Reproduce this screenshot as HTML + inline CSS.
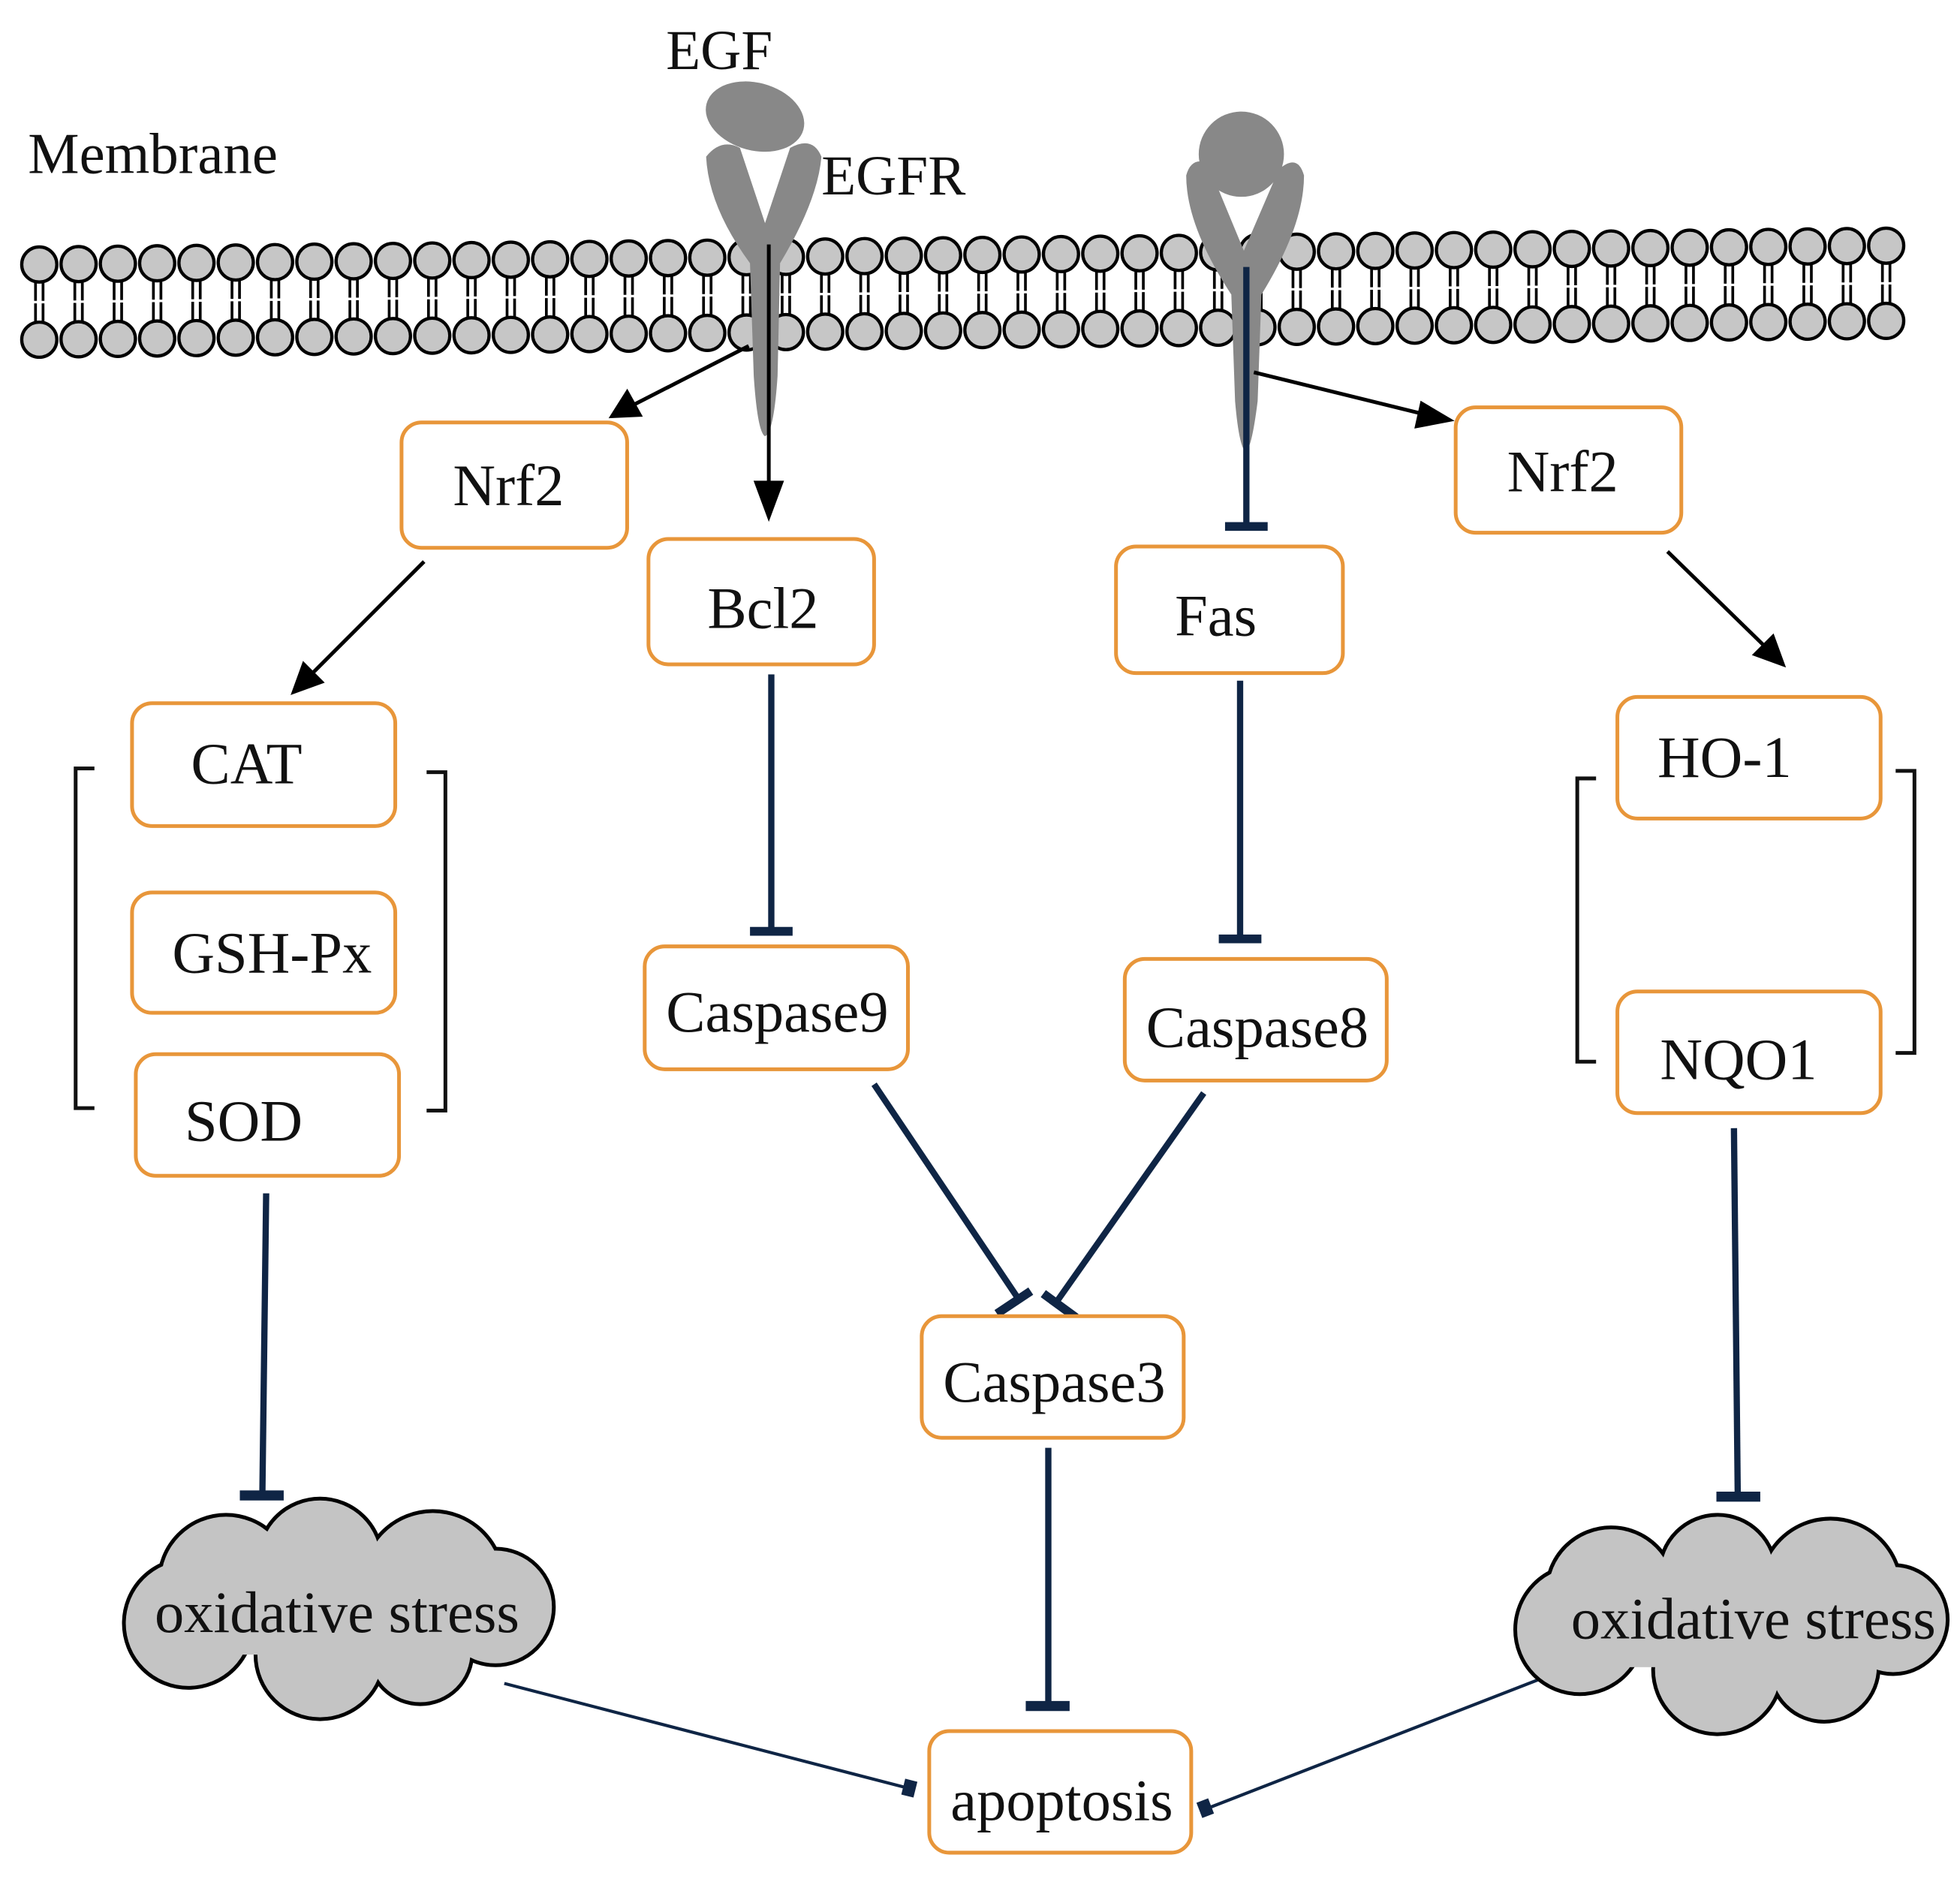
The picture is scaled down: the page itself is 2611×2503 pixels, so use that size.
<!DOCTYPE html>
<html><head><meta charset="utf-8"><style>
html,body{margin:0;padding:0;background:#fff;}
svg{display:block;}
text{font-family:"Liberation Serif",serif;fill:#111;}
</style></head><body>
<svg width="2611" height="2503" viewBox="0 0 1563 1499" xmlns="http://www.w3.org/2000/svg">
<rect width="1563" height="1499" fill="#fff"/>
<text x="22" y="138" font-size="46">Membrane</text>
<text x="531" y="55" font-size="45">EGF</text>
<text x="655" y="155" font-size="45">EGFR</text>

<g id="lip"></g>

<!-- receptors -->
<g fill="#888">
<ellipse cx="602" cy="93" rx="40" ry="27" transform="rotate(15 602 93)"/>
<path d="M563,125 Q575,110 590,118 L610,178 L630,118 Q648,108 655,125 Q652,160 622,210 L620,300 Q617,345 610,348 Q604,345 601,300 L598,210 Q565,165 563,125 Z"/>
<circle cx="990" cy="123" r="34"/>
<path d="M946,140 Q950,125 963,130 L992,200 L1020,135 Q1035,122 1040,140 Q1040,180 1006,235 L1003,320 Q998,360 993,360 Q988,355 985,320 L982,235 Q946,180 946,140 Z"/>
</g>

<!-- black arrows -->
<g stroke="#000" stroke-width="3" fill="#000">
<line x1="613" y1="195" x2="613" y2="395"/>
<polygon points="603,385 623,385 613,412"/>
<line x1="597" y1="276" x2="505" y2="323"/>
<polygon points="488,332 500,313 510,331"/>
<line x1="1000" y1="297" x2="1138" y2="331"/>
<polygon points="1156,335 1134,322 1130,340"/>
<line x1="338" y1="448" x2="248" y2="538"/>
<polygon points="234,552 242,530 256,544"/>
<line x1="1330" y1="440" x2="1408" y2="516"/>
<polygon points="1422,530 1400,522 1414,508"/>
</g>

<!-- navy inhibitors -->
<g stroke="#0f2545" stroke-width="5" fill="none">
<line x1="994" y1="213" x2="994" y2="418"/>
<line x1="977" y1="420" x2="1011" y2="420" stroke-width="7"/>
<line x1="615" y1="538" x2="615" y2="740"/>
<line x1="598" y1="743" x2="632" y2="743" stroke-width="7"/>
<line x1="989" y1="543" x2="989" y2="746"/>
<line x1="972" y1="749" x2="1006" y2="749" stroke-width="7"/>
<line x1="697" y1="865" x2="812" y2="1036"/>
<line x1="795" y1="1048" x2="822" y2="1030" stroke-width="7"/>
<line x1="960" y1="872" x2="843" y2="1038"/>
<line x1="832" y1="1032" x2="858" y2="1051" stroke-width="7"/>
<line x1="212" y1="952" x2="209" y2="1190"/>
<line x1="191" y1="1193" x2="226" y2="1193" stroke-width="8"/>
<line x1="1383" y1="900" x2="1386" y2="1191"/>
<line x1="1369" y1="1194" x2="1404" y2="1194" stroke-width="8"/>
<line x1="836" y1="1155" x2="836" y2="1358"/>
<line x1="818" y1="1361" x2="853" y2="1361" stroke-width="8"/>
<line x1="402" y1="1343" x2="726" y2="1427" stroke-width="2.5"/>
<line x1="1245" y1="1333" x2="962" y2="1443" stroke-width="2.5"/>
<rect x="720" y="1420" width="10" height="13" fill="#0f2545" stroke="none" transform="rotate(14 725 1427)"/>
<rect x="956" y="1436" width="10" height="13" fill="#0f2545" stroke="none" transform="rotate(-21 961 1442)"/>
</g>

<!-- brackets -->
<g stroke="#111" stroke-width="3" fill="none">
<polyline points="75,613 60,613 60,884 75,884"/>
<polyline points="340,616 355,616 355,886 340,886"/>
<polyline points="1273,621 1258,621 1258,847 1273,847"/>
<polyline points="1512,615 1527,615 1527,840 1512,840"/>
</g>

<!-- boxes -->
<g fill="#fff" stroke="#e8963a" stroke-width="3">
<rect x="320" y="337" width="180" height="100" rx="16"/>
<rect x="517" y="430" width="180" height="100" rx="16"/>
<rect x="890" y="436" width="181" height="101" rx="16"/>
<rect x="1161" y="325" width="180" height="100" rx="16"/>
<rect x="105" y="561" width="210" height="98" rx="16"/>
<rect x="105" y="712" width="210" height="96" rx="16"/>
<rect x="108" y="841" width="210" height="97" rx="16"/>
<rect x="514" y="755" width="210" height="98" rx="16"/>
<rect x="897" y="765" width="209" height="97" rx="16"/>
<rect x="1290" y="556" width="210" height="97" rx="16"/>
<rect x="1290" y="791" width="210" height="97" rx="16"/>
<rect x="735" y="1050" width="209" height="97" rx="16"/>
<rect x="741" y="1381" width="209" height="97" rx="16"/>
</g>
<g font-size="47">
<text x="361" y="403">Nrf2</text>
<text x="564" y="501">Bcl2</text>
<text x="937" y="507">Fas</text>
<text x="1202" y="392">Nrf2</text>
<text x="152" y="625">CAT</text>
<text x="137" y="776">GSH-Px</text>
<text x="147" y="910">SOD</text>
<text x="531" y="823">Caspase9</text>
<text x="914" y="835">Caspase8</text>
<text x="1322" y="620">HO-1</text>
<text x="1324" y="861">NQO1</text>
<text x="752" y="1118">Caspase3</text>
<text x="758" y="1452">apoptosis</text>
</g>

<!-- clouds -->
<g stroke="#000" stroke-width="6" fill="#c4c4c4">
<circle cx="180" cy="1262" r="52"/><circle cx="255" cy="1245" r="48"/><circle cx="345" cy="1262" r="55"/>
<circle cx="395" cy="1282" r="45"/><circle cx="335" cy="1318" r="40"/><circle cx="255" cy="1320" r="50"/><circle cx="150" cy="1295" r="50"/>
<circle cx="1285" cy="1270" r="50"/><circle cx="1370" cy="1255" r="45"/><circle cx="1460" cy="1268" r="55"/>
<circle cx="1510" cy="1292" r="42"/><circle cx="1455" cy="1330" r="42"/><circle cx="1370" cy="1332" r="50"/><circle cx="1260" cy="1300" r="50"/>
</g>
<g fill="#c4c4c4">
<circle cx="180" cy="1262" r="52"/><circle cx="255" cy="1245" r="48"/><circle cx="345" cy="1262" r="55"/>
<circle cx="395" cy="1282" r="45"/><circle cx="335" cy="1318" r="40"/><circle cx="255" cy="1320" r="50"/><circle cx="150" cy="1295" r="50"/>
<circle cx="1285" cy="1270" r="50"/><circle cx="1370" cy="1255" r="45"/><circle cx="1460" cy="1268" r="55"/>
<circle cx="1510" cy="1292" r="42"/><circle cx="1455" cy="1330" r="42"/><circle cx="1370" cy="1332" r="50"/><circle cx="1260" cy="1300" r="50"/>
<rect x="180" y="1250" width="200" height="70"/><rect x="1280" y="1260" width="200" height="70"/>
</g>
<text x="123" y="1302" font-size="47">oxidative stress</text>
<text x="1253" y="1307" font-size="47">oxidative stress</text>
</svg>
<script>
(function(){
var lip=document.getElementById('lip');
var frag='';
for(var i=0;i<48;i++){
 var x=31+i*31.35; var dy=-15*i/47;
 var yt=211+dy, yb=271+dy;
 frag+='<line x1="'+(x-3)+'" y1="'+(yt+13)+'" x2="'+(x-3)+'" y2="'+(yb-13)+'" stroke="#000" stroke-width="2.2"/>';
 frag+='<line x1="'+(x+3)+'" y1="'+(yt+13)+'" x2="'+(x+3)+'" y2="'+(yb-13)+'" stroke="#000" stroke-width="2.2"/>';
 frag+='<line x1="'+(x-6)+'" y1="'+((yt+yb)/2)+'" x2="'+(x+6)+'" y2="'+((yt+yb)/2)+'" stroke="#fff" stroke-width="2"/>';
 frag+='<circle cx="'+x+'" cy="'+yt+'" r="14" fill="#c6c6c6" stroke="#000" stroke-width="2.6"/>';
 frag+='<circle cx="'+x+'" cy="'+yb+'" r="14" fill="#c6c6c6" stroke="#000" stroke-width="2.6"/>';
}
lip.innerHTML=frag;
})();
</script>
</body></html>
